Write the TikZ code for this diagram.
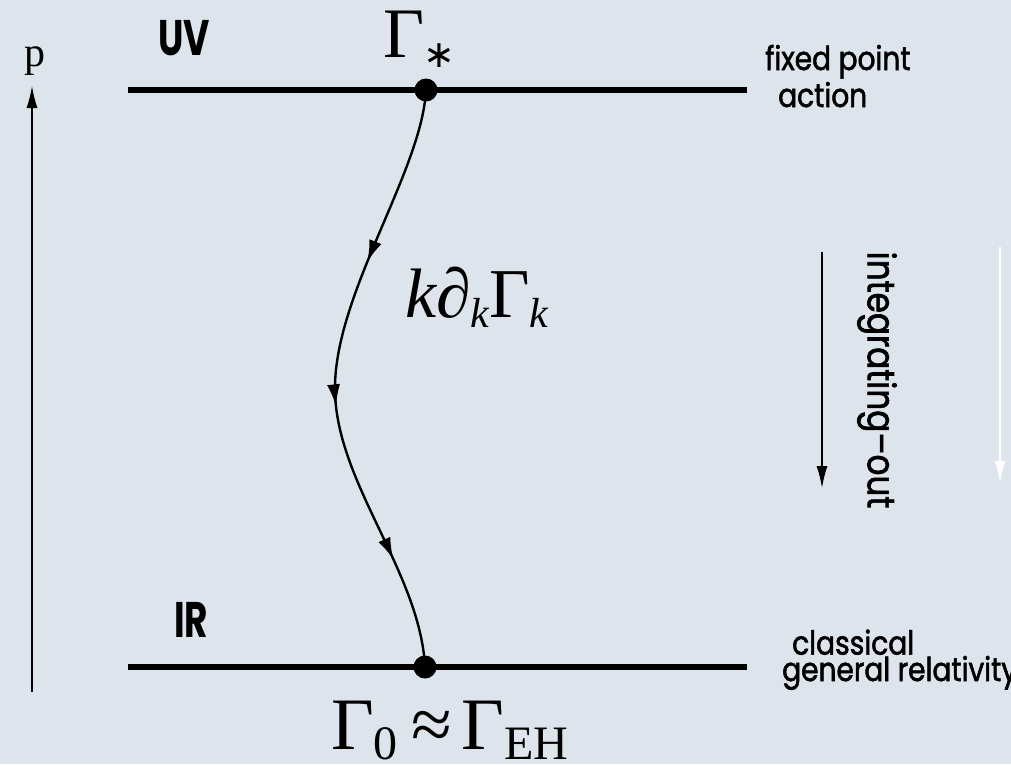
\documentclass[tikz,border=0pt]{standalone}
\usepackage{fontspec}
\usetikzlibrary{arrows.meta,decorations.markings}
\newfontfamily\tms{Liberation Serif}
\newfontfamily\djv{DejaVu Sans}
\newfontfamily\gth[FakeBold=1.6,FakeStretch=0.85]{Poppins}
\newfontfamily\gthc[FakeStretch=0.72]{Poppins}
\definecolor{bgcol}{HTML}{DEE4EB}
\newcommand\lowsub[3]{\raisebox{-#1pt}{\fontsize{#2}{#2}\selectfont #3}}
\begin{document}
\begin{tikzpicture}[x=1pt,y=-1pt,
  level/.style={line width=6pt},
  dotnode/.style={circle,fill=black,inner sep=0pt,minimum size=23pt},
  flow/.style={line width=2.4pt,postaction={decorate},
    decoration={markings,
      mark=at position 0.30 with {\arrow{Latex[length=22pt,width=13pt]}},
      mark=at position 0.545 with {\arrow{Latex[length=22pt,width=13pt]}},
      mark=at position 0.815 with {\arrow{Latex[length=22pt,width=13pt]}}}},
  axis/.style={line width=1.5pt,-{Latex[length=22pt,width=11pt]}},
  lab/.style={font=\gth\fontsize{33}{37}\selectfont,inner sep=0pt},
  biglab/.style={font=\gthc\bfseries\fontsize{50}{50}\selectfont,inner sep=0pt},
  mth/.style={font=\tms\fontsize{71}{80}\selectfont,inner sep=0pt}]
\fill[bgcol] (0,0) rectangle (1011,764);
\useasboundingbox (0,0) rectangle (1011,764);
% levels
\coordinate (uvL) at (128,90);
\coordinate (uvR) at (747,90);
\coordinate (irL) at (128,667);
\coordinate (irR) at (747,667);
\draw[level] (uvL) -- (uvR);
\draw[level] (irL) -- (irR);
% flow curve
\coordinate (topc) at (426,90);
\coordinate (botc) at (425,667);
\coordinate (mid) at (335,385);
\draw[flow] (topc) .. controls (422,170) and (337,290) .. (mid)
  .. controls (333,480) and (420,570) .. (botc);
\node[dotnode] (top) at (topc) {};
\node[dotnode] (bot) at (botc) {};
% left axis
\coordinate (pbot) at (32,692);
\coordinate (ptop) at (32,86);
\draw[axis] (pbot) -- (ptop);
\node[anchor=base,inner sep=0pt,font=\tms\fontsize{42}{42}\selectfont] (p) at (35,66) {p};
% labels
\node[biglab,anchor=base west] (uv) at (158,55) {UV};
\node[biglab,anchor=base west] (ir) at (174,637) {IR};
\node[mth,anchor=base west] (gstar) at (383,57) {Γ\hspace{-1pt}\lowsub{10}{38}{\djv ∗}};
\node[mth,anchor=base west,font=\tms\fontsize{70}{80}\selectfont] (flowlab) at (405,317)
  {\itshape k∂\lowsub{10}{42}{k}\upshape Γ\lowsub{10}{42}{\itshape k}};
\node[mth,anchor=base west,font=\tms\fontsize{74}{80}\selectfont] (geh) at (331,749)
  {Γ\lowsub{10}{48}{0}\hspace{14pt}≈\hspace{9pt}Γ\lowsub{10}{48}{EH}};
\node[lab,anchor=base west,align=left] (fpa) at (765,107) {fixed point\\\hspace*{13pt}action};
\node[lab,anchor=base west,align=left,font=\gth\fontsize{33}{25}\selectfont] (cgr) at (782,681) {\hspace*{10pt}classical\\general relativity};
% integrating-out
\coordinate (ioTop) at (822,252);
\coordinate (ioBot) at (822,488);
\draw[axis] (ioTop) -- (ioBot);
\node[lab,rotate=-90,anchor=center,font=\gth\fontsize{38.5}{40}\selectfont] (io) at (877,380) {integrating–out};
\coordinate (wTop) at (1000,247);
\coordinate (wBot) at (1000,483);
\draw[axis,white] (wTop) -- (wBot);
\end{tikzpicture}
\end{document}
